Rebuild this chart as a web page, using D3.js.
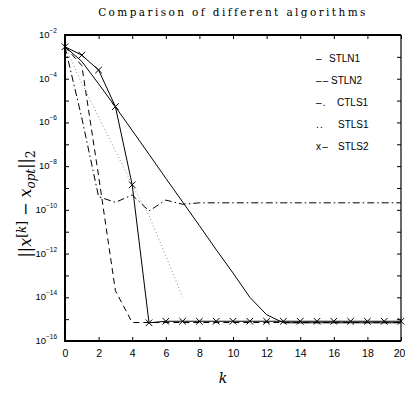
<!DOCTYPE html>
<html>
<head>
<meta charset="utf-8">
<script src="https://cdn.jsdelivr.net/npm/d3@7"></script>
<style>
  body { margin: 0; background: #fff; }
  svg { display: block; }
</style>
</head>
<body>
<div id="chart"></div>
<script>
// iterations
const k = d3.range(0, 21);

// error norms
const stln1 = [2.9e-3, 6.2e-4, 5.8e-5, 5.2e-6, 4.3e-7, 3.5e-8, 2.8e-9, 2.3e-10, 1.9e-11, 1.5e-12,
               1.3e-13, 1.0e-14, 1.6e-15, 6.8e-16, 6.8e-16, 6.8e-16, 6.8e-16, 6.8e-16, 6.8e-16, 6.8e-16, 6.8e-16];
const stln2 = [2.9e-3, 4.0e-4, 3.5e-9, 2.0e-14, 7.0e-16, 7.0e-16, 7.0e-16, 7.0e-16, 7.0e-16, 7.0e-16,
               7.0e-16, 7.0e-16, 7.0e-16, 7.0e-16, 7.0e-16, 7.0e-16, 7.0e-16, 7.0e-16, 7.0e-16, 7.0e-16, 7.0e-16];
const ctls1 = [2.9e-3, 1.6e-6, 4.0e-10, 2.2e-10, 4.8e-10, 8.9e-11, 2.8e-10, 1.8e-10, 2.1e-10, 2.1e-10,
               2.1e-10, 2.1e-10, 2.1e-10, 2.1e-10, 2.1e-10, 2.1e-10, 2.1e-10, 2.1e-10, 2.1e-10, 2.1e-10, 2.1e-10];
const stls1 = [2.9e-3, 6.3e-5, 1.8e-6, 5.0e-8, 1.4e-9, 5.6e-11, 7.9e-13, 1.0e-14];
const stls2 = [2.9e-3, 1.2e-3, 2.5e-4, 5.3e-6, 1.4e-9, 6.8e-16, 8.0e-16, 8.0e-16, 8.0e-16, 8.0e-16,
               8.0e-16, 8.0e-16, 8.0e-16, 8.0e-16, 8.0e-16, 8.0e-16, 8.0e-16, 8.0e-16, 8.0e-16, 8.0e-16, 8.0e-16];

// the legend in the original is typed text: line-style code + name
const legendCodes = ["\u2013", "\u2013\u2013", "\u2013.", "..", "x\u2013"];
const legendNames = ["STLN1", "STLN2", "CTLS1", "STLS1", "STLS2"];
const xTicks = [0, 2, 4, 6, 8, 10, 12, 14, 16, 18, 20];
const yExps = [-2, -4, -6, -8, -10, -12, -14, -16];

const width = 405, height = 402;
const margin = { top: 35, right: 4, bottom: 61, left: 65 };
const w = width - margin.left - margin.right,
      h = height - margin.top - margin.bottom;

const svg = d3.select("#chart")
  .append("svg")
  .attr("width", width)
  .attr("height", height);

const chart = svg.append("g")
  .attr("transform", `translate(${margin.left},${margin.top})`);

const x = d3.scaleLinear().domain([0, 20]).range([0, w]);
const y = d3.scaleLog().domain([1e-16, 1e-2]).range([h, 0]);

const series = [
  { name: "STLN1", values: stln1, dash: null, color: "#000" },
  { name: "STLN2", values: stln2, dash: "6,4", color: "#000" },
  { name: "CTLS1", values: ctls1, dash: "7,3,1.5,3", color: "#000" },
  { name: "STLS1", values: stls1, dash: "1,2.5", color: "#888" },
  { name: "STLS2", values: stls2, dash: null, color: "#000", marker: true }
];

const line = d3.line()
  .x((d, i) => x(k[i]))
  .y(d => y(d));

series.forEach(s => {
  chart.append("path")
    .datum(s.values)
    .attr("fill", "none")
    .attr("stroke", s.color)
    .attr("stroke-width", 1)
    .attr("stroke-dasharray", s.dash)
    .attr("d", line);

  if (s.marker) {
    const cross = d3.symbol().type(d3.symbolX).size(30);
    chart.selectAll(".mk")
      .data(s.values)
      .enter()
      .append("path")
        .attr("transform", (d, i) => `translate(${x(k[i])},${y(d)})`)
        .attr("d", cross)
        .attr("fill", "none")
        .attr("stroke", "#000")
        .attr("stroke-width", 1);
  }
});

// axes, ticks pointing inward like matlab
const font = "Liberation Sans, Arial, sans-serif";
const yAll = d3.range(-16, -1).map(e => Math.pow(10, e));

chart.append("g")
  .attr("transform", `translate(0,${h})`)
  .call(d3.axisBottom(x).tickValues(xTicks).tickSize(-4).tickPadding(9))
  .call(g => g.select(".domain").remove())
  .selectAll("text")
    .attr("font-family", font)
    .attr("font-size", 10.5)
    .attr("fill", "#000")
    .attr("dx", d => d === 20 ? -2 : 0);

chart.append("g")
  .call(d3.axisTop(x).tickValues(xTicks).tickSize(-4).tickFormat(""))
  .call(g => g.select(".domain").remove());

chart.append("g")
  .call(d3.axisLeft(y).tickValues(yAll).tickSize(-4).tickFormat(""))
  .call(g => g.select(".domain").remove());

chart.append("g")
  .attr("transform", `translate(${w},0)`)
  .call(d3.axisRight(y).tickValues(yAll).tickSize(-4).tickFormat(""))
  .call(g => g.select(".domain").remove());

const yLab = chart.append("g");
yExps.forEach(e => {
  const t = yLab.append("text")
    .attr("x", -8)
    .attr("y", y(Math.pow(10, e)) + 3)
    .attr("text-anchor", "end")
    .attr("font-family", font)
    .attr("font-size", 9.5);
  t.append("tspan").text("10");
  t.append("tspan").attr("dy", -5).attr("font-size", 6.5).text("\u2212" + (-e));
});

// frame: left/bottom/top heavier, right thin
const frame = chart.append("g").attr("stroke", "#000").attr("fill", "none");
frame.append("path").attr("stroke-width", 2)
  .attr("d", `M${w},0H0V${h}H${w}`);
frame.append("path").attr("stroke-width", 1.2)
  .attr("d", `M${w},0V${h}`);

// title
svg.append("text")
  .attr("x", margin.left + w / 2)
  .attr("y", 16)
  .attr("text-anchor", "middle")
  .attr("font-family", "DejaVu Serif, serif")
  .attr("font-size", 10.5)
  .attr("letter-spacing", 2.4)
  .text("Comparison of different algorithms");

// x label
svg.append("text")
  .attr("x", 223)
  .attr("y", 383)
  .attr("text-anchor", "middle")
  .attr("font-family", "DejaVu Serif, serif")
  .attr("font-style", "italic")
  .attr("font-size", 14)
  .text("k");

// y label
const yl = svg.append("text")
  .attr("transform", `translate(31,${margin.top + h / 2 + 16}) rotate(-90)`)
  .attr("text-anchor", "middle")
  .attr("font-family", "DejaVu Serif, serif")
  .attr("font-size", 16);
yl.append("tspan").text("||");
yl.append("tspan").attr("font-style", "italic").text("x");
yl.append("tspan").attr("dy", -5).attr("font-size", 12).text("[");
yl.append("tspan").attr("font-size", 12).attr("font-style", "italic").text("k");
yl.append("tspan").attr("font-size", 12).text("]");
yl.append("tspan").attr("dy", 5).text(" \u2212 ");
yl.append("tspan").attr("font-style", "italic").text("x");
yl.append("tspan").attr("dy", 4).attr("font-size", 12).attr("font-style", "italic").text("opt");
yl.append("tspan").attr("dy", -4).text("||");
yl.append("tspan").attr("dy", 4).attr("font-size", 12).text("2");

const nameX = [329, 331, 337, 338, 338];
const legend = svg.append("g")
  .attr("transform", "translate(0,62)");
legendNames.forEach((name, i) => {
  legend.append("text")
    .attr("x", 316)
    .attr("y", i * 22)
    .attr("font-family", font)
    .attr("font-size", 10)
    .attr("letter-spacing", 1.2)
    .text(legendCodes[i]);
  legend.append("text")
    .attr("x", nameX[i])
    .attr("y", i * 22)
    .attr("font-family", font)
    .attr("font-size", 10)
    .text(name);
});
</script>
</body>
</html>
